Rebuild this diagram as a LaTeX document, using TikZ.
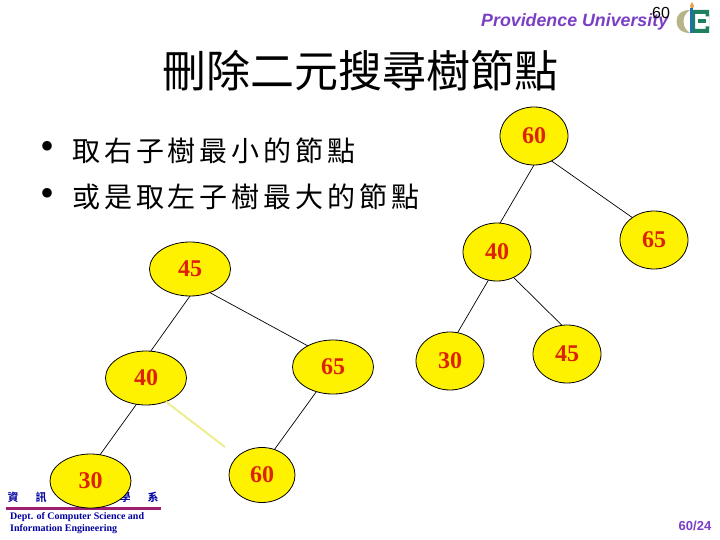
\documentclass[tikz,border=0pt]{standalone}
\usepackage{fontspec}
\usetikzlibrary{shapes.geometric}
\setmainfont{Liberation Serif}
\setsansfont{Liberation Sans}
\newfontfamily\cjktitle{Noto Sans CJK TC}
\newfontfamily\cjkbody[LetterSpace=14]{Noto Sans CJK TC}
\newfontfamily\cjkfoot{Noto Sans CJK TC}[BoldFont={Noto Sans CJK TC Bold}]
\definecolor{nodered}{HTML}{DD2200}
\definecolor{purpletext}{HTML}{7B3FC4}
\definecolor{footblue}{HTML}{0000A0}
\definecolor{footrule}{HTML}{A01E6E}
\definecolor{paleline}{HTML}{EEEE90}
\definecolor{logotan}{HTML}{B8B48A}
\definecolor{logoblue}{HTML}{1F6FA8}
\definecolor{logogreen}{HTML}{1E8060}
\definecolor{logoflame}{HTML}{E8A040}
\tikzset{
  treenode/.style={ellipse,draw=black,fill=yellow,line width=0.8pt,inner sep=0pt,outer sep=0pt,
    text=nodered,font=\fontsize{24}{24}\selectfont\bfseries},
  wide/.style={treenode,minimum width=81pt,minimum height=54pt},
  narrow/.style={treenode,minimum width=68pt,minimum height=58pt},
  edgeline/.style={draw=black,line width=0.7pt},
  paleedge/.style={draw=paleline,line width=2pt},
  bodytext/.style={inner sep=0pt,anchor=west,font=\fontsize{28}{28}\selectfont\cjkbody},
  bullettext/.style={inner sep=0pt,font=\fontsize{40}{40}\selectfont},
  footchar/.style={inner sep=0pt,text=footblue,font=\fontsize{11}{11}\selectfont\cjkfoot\bfseries},
  footline/.style={inner sep=0pt,anchor=west,text=footblue,font=\fontsize{10}{10}\selectfont\bfseries},
  brand/.style={inner sep=0pt,text=purpletext,font=\sffamily\bfseries}
}
\begin{document}
\begin{tikzpicture}[x=1pt,y=-1pt]
\useasboundingbox (0,0) rectangle (720,540);
\fill[white] (0,0) rectangle (720,540);
% header
\node[brand,anchor=west,font=\fontsize{17.8}{18}\selectfont\sffamily\bfseries\itshape] (uni) at (481,22) {Providence University};
\node[inner sep=0pt,font=\fontsize{16}{16}\selectfont\sffamily] (pagetop) at (661,13) {60};
% logo
\fill[logotan] (690,10) .. controls (681,10) and (676.5,15) .. (676.5,21.5) .. controls (676.5,28) and (681,33) .. (690,33)
  .. controls (686,30) and (683.5,27) .. (683.5,21.5) .. controls (683.5,16) and (686,13) .. (690,10) -- cycle;
\fill[logoflame] (692,2) .. controls (690,5) and (689,8) .. (692,8) .. controls (695,8) and (694,5) .. (692,2);
\fill[logogreen,even odd rule] (693,10) rectangle (709,33) (695,14) rectangle (709,29);
\fill[logogreen] (698,19.5) rectangle (706,23.5);
\fill[logogreen] (705.5,14) rectangle (709,16.5) (705.5,26.5) rectangle (709,29);
\fill[logoblue] (690,8) rectangle (693,33);
% title
\node[inner sep=0pt,font=\fontsize{44}{44}\selectfont\cjktitle] (title) at (360,71) {刪除二元搜尋樹節點};
% bullets
\node[bullettext] (b1) at (48,150) {•};
\node[bullettext] (b2) at (48,197) {•};
\node[bodytext] (t1) at (72,151) {取右子樹最小的節點};
\node[bodytext] (t2) at (72,197) {或是取左子樹最大的節點};
% footer
\node[footchar] (f1) at (13,497) {資};
\node[footchar] (f2) at (41,497) {訊};
\node[footchar] (f3) at (69,497) {工};
\node[footchar] (f4) at (97,497) {程};
\node[footchar] (f5) at (125,497) {學};
\node[footchar] (f6) at (153,497) {系};
\fill[footrule] (6,506.5) rectangle (161,510);
\node[footline] (d1) at (10,517) {Dept. of Computer Science and};
\node[footline] (d2) at (10,529) {Information Engineering};
\node[brand,font=\fontsize{13}{13}\selectfont\sffamily\bfseries] (pg) at (695,526) {60/24};
% right tree
\node[narrow] (rA) at (534,136) {60};
\node[narrow] (rB) at (497,252) {40};
\node[narrow] (rC) at (654,240) {65};
\node[narrow] (rD) at (450,361) {30};
\node[narrow] (rE) at (567,354) {45};
% left tree
\node[wide] (lA) at (190,269) {45};
\node[wide] (lB) at (146,378) {40};
\node[wide] (lC) at (333,367) {65};
\node[wide] (lD) at (90.5,481) {30};
\node[narrow,minimum height=55pt,minimum width=66pt] (lE) at (262,475) {60};
\coordinate (gapend) at (225,447);
% connectors
\draw[edgeline] (rA.-90) -- (rB.84);
\draw[edgeline] (rA.-55) -- (rC.134);
\draw[edgeline] (rB.-107) -- (rD.75);
\draw[edgeline] (rB.-57) -- (rE.100);
\draw[edgeline] (lA.-90) -- (lB.80);
\draw[edgeline] (lA.-50) -- (lC.140);
\draw[edgeline] (lB.-110) -- (lD.70);
\draw[edgeline] (lC.-124) -- (lE.64);
\draw[paleedge] (lB.-50) -- (gapend);
\end{tikzpicture}
\end{document}
